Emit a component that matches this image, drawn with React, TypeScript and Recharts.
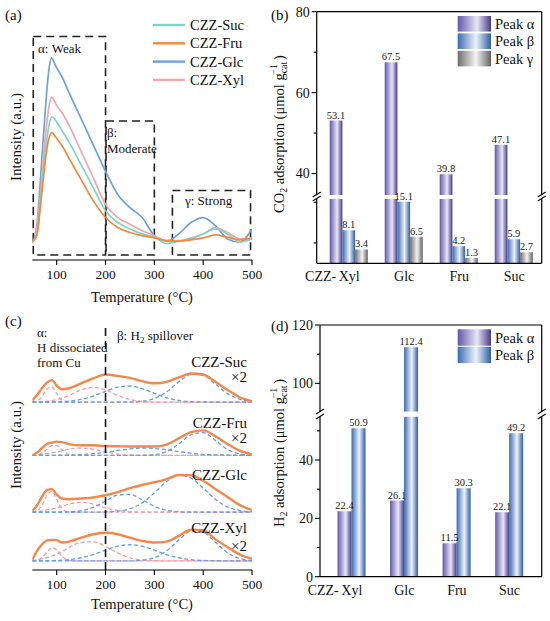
import React from 'react'
import {
  LineChart,
  Line,
  BarChart,
  Bar,
  XAxis,
  YAxis,
  ReferenceArea,
  ReferenceLine,
  LabelList
} from 'recharts'

const FONT = '"Liberation Serif", "Times New Roman", serif'

// (a) CO2-TPD profiles (a.u., 0-100 over the plot height)
const tpdTemps = [50, 55, 60, 65, 70, 75, 80, 85, 90, 95, 100, 110, 125, 150, 175, 200, 225, 250, 275, 300, 325, 350, 375, 400, 425, 450, 475, 500]
const tpdSuc = [7.2, 8.5, 11.1, 19.8, 30.4, 41.0, 49.0, 55.0, 57.6, 57.0, 55.6, 52.3, 47.6, 38.4, 29.1, 19.8, 15.1, 12.5, 10.5, 9.2, 6.6, 7.6, 8.5, 10.5, 12.5, 10.5, 7.2, 8.5]
const tpdFru = [7.2, 8.5, 10.5, 18.4, 27.7, 37.0, 45.0, 49.6, 51.3, 50.3, 49.0, 46.3, 41.0, 32.4, 23.8, 17.1, 13.1, 11.1, 9.8, 8.9, 7.8, 7.6, 8.1, 8.9, 10.1, 9.2, 8.1, 8.9]
const tpdGlc = [7.2, 9.2, 15.1, 27.7, 42.3, 55.6, 68.9, 78.1, 81.4, 79.4, 77.4, 74.1, 67.5, 56.9, 46.3, 35.7, 26.4, 21.1, 17.1, 9.8, 7.6, 10.5, 15.1, 17.1, 13.8, 8.5, 7.2, 12.5]
const tpdXyl = [7.2, 8.5, 13.1, 22.4, 34.4, 46.3, 55.6, 62.9, 65.6, 64.2, 62.2, 59.6, 54.3, 43.7, 33.1, 22.4, 17.1, 14.4, 11.8, 9.8, 7.8, 7.8, 8.9, 10.5, 12.9, 11.1, 8.5, 8.5]

// (b) CO2 adsorption per peak
const catSamples = ['Xyl', 'Glc', 'Fru', 'Suc']
const co2PeakA = [53.1, 67.5, 39.8, 47.1]
const co2PeakB = [8.1, 15.1, 4.2, 5.9]
const co2PeakG = [3.4, 6.5, 1.3, 2.7]

// (c) H2-TPD profiles and fitted peaks (signal above each trace's baseline)
const h2Temps = [50, 60, 70, 80, 90, 100, 110, 125, 150, 175, 200, 225, 250, 275, 300, 325, 350, 375, 400, 425, 450, 475, 500]
const h2SucTotal = [0.7, 3.0, 5.8, 8.0, 9.0, 6.8, 5.3, 5.7, 7.7, 9.7, 11.3, 10.7, 9.9, 8.6, 7.7, 8.3, 10.1, 11.7, 11.3, 8.3, 5.0, 2.0, 0.4]
const h2SucA1 = [0.1, 0.5, 2.3, 5.4, 6.2, 3.6, 1.0, 0, 0, 0, 0, 0, 0, 0, 0, 0, 0, 0, 0, 0, 0, 0, 0]
const h2SucA2 = [0.1, 0.1, 0.2, 0.4, 0.6, 1.1, 1.6, 2.8, 5.0, 6.1, 5.0, 2.8, 1.1, 0.3, 0, 0, 0, 0, 0, 0, 0, 0, 0]
const h2SucB1 = [0, 0, 0, 0, 0.1, 0.1, 0.2, 0.4, 1.1, 2.5, 4.4, 6.1, 6.6, 5.5, 3.6, 1.8, 0.7, 0.2, 0.1, 0, 0, 0, 0]
const h2SucB2 = [0, 0, 0, 0, 0, 0, 0, 0, 0, 0, 0, 0, 0.1, 0.4, 1.5, 4.2, 8.3, 11.4, 11.0, 7.4, 3.5, 1.2, 0.3]
const h2FruTotal = [0.1, 1.2, 3.0, 4.6, 5.2, 5.6, 5.4, 4.6, 4.1, 4.1, 3.8, 3.7, 3.6, 3.6, 3.6, 4.4, 6.9, 9.5, 10.2, 7.8, 4.6, 1.9, 0.4]
const h2FruA1 = [0, 0.2, 0.9, 2.4, 4.0, 4.0, 2.4, 0.4, 0, 0, 0, 0, 0, 0, 0, 0, 0, 0, 0, 0, 0, 0, 0]
const h2FruA2 = [0.1, 0.2, 0.4, 0.7, 1.0, 1.4, 1.8, 2.5, 3.0, 2.5, 1.4, 0.5, 0.1, 0, 0, 0, 0, 0, 0, 0, 0, 0, 0]
const h2FruB1 = [0, 0, 0, 0, 0, 0, 0.1, 0.1, 0.3, 0.7, 1.2, 2.0, 2.6, 3.0, 2.8, 2.3, 1.5, 0.9, 0.4, 0.2, 0.1, 0, 0]
const h2FruB2 = [0, 0, 0, 0, 0, 0, 0, 0, 0, 0, 0, 0, 0, 0, 0.3, 1.5, 4.6, 8.4, 9.3, 6.1, 2.4, 0.6, 0.1]
const h2GlcTotal = [0.5, 2.9, 6.3, 9.0, 9.4, 7.2, 5.6, 5.3, 5.6, 6.0, 6.9, 8.2, 9.8, 11.1, 12.2, 13.5, 15.2, 15.1, 12.8, 9.5, 6.2, 2.9, 0.9]
const h2GlcA1 = [0.1, 0.6, 2.8, 6.9, 8.5, 5.2, 1.6, 0.1, 0, 0, 0, 0, 0, 0, 0, 0, 0, 0, 0, 0, 0, 0, 0]
const h2GlcA2 = [0.2, 0.3, 0.5, 0.9, 1.3, 1.8, 2.4, 3.3, 4.0, 3.3, 1.8, 0.7, 0.2, 0, 0, 0, 0, 0, 0, 0, 0, 0, 0]
const h2GlcB1 = [0, 0, 0, 0, 0, 0, 0, 0.1, 0.6, 2.0, 4.5, 7.0, 7.3, 5.1, 2.4, 0.8, 0.2, 0, 0, 0, 0, 0, 0]
const h2GlcB2 = [0, 0, 0, 0, 0, 0, 0, 0, 0, 0, 0.1, 0.4, 1.4, 3.8, 7.9, 12.5, 15.1, 13.9, 9.8, 5.3, 2.1, 0.7, 0.2]
const h2XylTotal = [0.5, 4.2, 6.8, 8.4, 8.6, 8.5, 7.5, 7.9, 9.5, 10.9, 11.5, 10.9, 9.5, 8.2, 7.5, 7.9, 10.2, 12.8, 12.5, 8.9, 5.6, 2.6, 0.9]
const h2XylA1 = [0, 0.3, 1.3, 3.6, 5.4, 4.5, 2.1, 0.2, 0, 0, 0, 0, 0, 0, 0, 0, 0, 0, 0, 0, 0, 0, 0]
const h2XylA2 = [0.3, 0.5, 0.9, 1.3, 2.0, 2.8, 3.8, 5.4, 7.6, 7.8, 5.9, 3.3, 1.3, 0.4, 0.1, 0, 0, 0, 0, 0, 0, 0, 0]
const h2XylB1 = [0, 0, 0, 0, 0.1, 0.2, 0.3, 0.5, 1.3, 2.6, 4.4, 6.0, 6.6, 6.0, 4.4, 2.6, 1.3, 0.5, 0.2, 0.1, 0, 0, 0]
const h2XylB2 = [0, 0, 0, 0, 0, 0, 0, 0, 0, 0, 0, 0, 0, 0.3, 1.3, 4.1, 8.5, 12.1, 11.7, 7.6, 3.3, 1.0, 0.2]
// vertical offset of each stacked trace (Suc, Fru, Glc, Xyl)
const h2Offsets = [68.5, 46.8, 23.6, 3.7]

// (d) H2 adsorption per peak
const h2PeakA = [22.4, 26.1, 11.5, 22.1]
const h2PeakB = [50.9, 112.4, 30.3, 49.2]

const tempTicks = [100, 150, 200, 250, 300, 350, 400, 450, 500]

const tpdColors: Record<string, string> = {
  suc: '#7fd3c7',
  fru: '#f7883a',
  glc: '#6ea2dd',
  xyl: '#f5a5ae'
}

function TempTick({ x, y, payload }: any) {
  const major = payload.value % 100 === 0
  return (
    <g>
      <line x1={x} x2={x} y1={y} y2={y + (major ? 5 : 3)} stroke="#000" strokeWidth={1.1} />
      {major && (
        <text x={x} y={y + 19} textAnchor="middle" fontSize={13.5} fontFamily={FONT} fill="#111">
          {payload.value}
        </text>
      )}
    </g>
  )
}

function YTick({ x, y, payload, majors }: any) {
  const major = majors.includes(payload.value)
  return (
    <g>
      <line x1={x - (major ? 5 : 3)} x2={x} y1={y} y2={y} stroke="#000" strokeWidth={1.1} />
      {major && (
        <text x={x - 7} y={y} dy="0.35em" textAnchor="end" fontSize={14} fontFamily={FONT} fill="#111">
          {payload.value}
        </text>
      )}
    </g>
  )
}

function SampleTick({ x, y, payload, index }: any) {
  return (
    <g>
      {index === 0 && (
        <text x={x - 13} y={y + 18} textAnchor="end" fontSize={14} fontFamily={FONT} fill="#111">
          CZZ-
        </text>
      )}
      <text x={x} y={y + 18} textAnchor="middle" fontSize={14} fontFamily={FONT} fill="#111">
        {payload.value}
      </text>
    </g>
  )
}

const valueLabel = (max: number) => (props: any) => {
  const { x, y, width, value } = props
  if (value == null || value > max) return null
  return (
    <text x={x + width / 2} y={y - 2} textAnchor="middle" fontSize={10.5} fontFamily={FONT} fill="#222">
      {value}
    </text>
  )
}

const axisLine = { stroke: '#000', strokeWidth: 1.2 }

// axis break limits
const co2Hi = 80
const co2BreakTop = 34.7
const co2BreakLow = 15.8
const h2Hi = 120
const h2BreakTop = 90.3
const h2BreakLow = 54.85

export default function App() {
  const tpdRows = tpdTemps.map((t, i) => ({
    t,
    suc: tpdSuc[i],
    fru: tpdFru[i],
    glc: tpdGlc[i],
    xyl: tpdXyl[i]
  }))

  const h2Samples = [
    { key: 'suc', total: h2SucTotal, a: [h2SucA1, h2SucA2], b: [h2SucB1, h2SucB2] },
    { key: 'fru', total: h2FruTotal, a: [h2FruA1, h2FruA2], b: [h2FruB1, h2FruB2] },
    { key: 'glc', total: h2GlcTotal, a: [h2GlcA1, h2GlcA2], b: [h2GlcB1, h2GlcB2] },
    { key: 'xyl', total: h2XylTotal, a: [h2XylA1, h2XylA2], b: [h2XylB1, h2XylB2] }
  ]
  const h2Rows = h2Temps.map((t, i) => {
    const row: Record<string, number> = { t }
    h2Samples.forEach((s, k) => {
      const off = h2Offsets[k]
      row[s.key + '_total'] = s.total[i] + off
      s.a.forEach((arr, j) => (row[`${s.key}_a${j}`] = arr[i] + off))
      s.b.forEach((arr, j) => (row[`${s.key}_b${j}`] = arr[i] + off))
    })
    return row
  })

  const above = (v: number, lo: number) => (v > lo ? v : null)
  const co2Upper = catSamples.map((name, i) => ({
    name,
    a: above(co2PeakA[i], co2BreakTop),
    b: above(co2PeakB[i], co2BreakTop),
    g: above(co2PeakG[i], co2BreakTop)
  }))
  const co2Lower = catSamples.map((name, i) => ({ name, a: co2PeakA[i], b: co2PeakB[i], g: co2PeakG[i] }))
  const h2Upper = catSamples.map((name, i) => ({
    name,
    a: above(h2PeakA[i], h2BreakTop),
    b: above(h2PeakB[i], h2BreakTop)
  }))
  const h2Lower = catSamples.map((name, i) => ({ name, a: h2PeakA[i], b: h2PeakB[i] }))

  const tempAxes = (
    <>
      <XAxis
        type="number"
        dataKey="t"
        domain={[50, 500]}
        ticks={tempTicks}
        tick={TempTick}
        tickLine={false}
        tickSize={0}
        tickMargin={0}
        axisLine={axisLine}
        allowDataOverflow
      />
      <XAxis xAxisId="top" orientation="top" type="number" dataKey="t" domain={[50, 500]} tick={false} tickLine={false} height={0} axisLine={axisLine} />
      <YAxis domain={[0, 100]} tick={false} tickLine={false} width={0} axisLine={axisLine} allowDataOverflow />
      <YAxis yAxisId="right" orientation="right" domain={[0, 100]} tick={false} tickLine={false} width={0} axisLine={axisLine} />
    </>
  )

  const yTickProps = { tickLine: false, tickSize: 0, tickMargin: 0, width: 1, axisLine, allowDataOverflow: true }
  const rightAxisProps = { yAxisId: 'right', orientation: 'right' as const, tick: false, tickLine: false, width: 1, axisLine }

  const pink = '#f29ea8'
  const blue = '#5f9fe2'

  return (
    <div style={{ position: 'absolute', left: 0, top: 0, width: 550, height: 621, background: '#fff', fontFamily: FONT }}>
      {/* (a) CO2-TPD */}
      <div style={{ position: 'absolute', left: 0, top: 0 }}>
        <LineChart width={275} height={290} data={tpdRows} margin={{ top: 11.7, right: 23, bottom: 0, left: 32.3 }}>
          {tempAxes}
          <ReferenceArea x1={52} x2={200} y1={2} y2={90} fill="none" stroke="#222" strokeWidth={1.6} strokeDasharray="8 5" />
          <ReferenceArea x1={201} x2={300} y1={2} y2={56} fill="none" stroke="#222" strokeWidth={1.6} strokeDasharray="8 5" />
          <ReferenceArea x1={337} x2={497} y1={2} y2={28} fill="none" stroke="#222" strokeWidth={1.6} strokeDasharray="8 5" />
          {['glc', 'xyl', 'suc', 'fru'].map(k => (
            <Line key={k} type="monotone" dataKey={k} stroke={tpdColors[k]} strokeWidth={1.7} dot={false} isAnimationActive={false} />
          ))}
        </LineChart>
      </div>

      {/* (b) CO2 adsorption, upper segment */}
      <div style={{ position: 'absolute', left: 275, top: 0 }}>
        <BarChart width={275} height={200} data={co2Upper} barSize={12.7} barGap={0} margin={{ top: 10.7, right: 7.3, bottom: 5, left: 40.7 }}>
          <XAxis dataKey="name" hide padding={{ left: 5, right: 0 }} />
          <XAxis xAxisId="top" orientation="top" dataKey="name" padding={{ left: 5, right: 0 }} tick={false} tickLine={false} height={1} axisLine={axisLine} />
          <YAxis
            domain={[co2BreakTop, co2Hi]}
            ticks={[40, 50, 60, 70, 80]}
            tick={(p: any) => <YTick {...p} majors={[40, 60, 80]} />}
            {...yTickProps}
          />
          <YAxis domain={[co2BreakTop, co2Hi]} {...rightAxisProps} />
          <Bar dataKey="a" fill="url(#gradA)" isAnimationActive={false}>
            <LabelList dataKey="a" content={valueLabel(co2Hi)} />
          </Bar>
          <Bar dataKey="b" fill="url(#gradB)" isAnimationActive={false} />
          <Bar dataKey="g" fill="url(#gradG)" isAnimationActive={false} />
        </BarChart>
      </div>

      {/* (b) CO2 adsorption, lower segment */}
      <div style={{ position: 'absolute', left: 275, top: 190 }}>
        <BarChart width={275} height={110} data={co2Lower} barSize={12.7} barGap={0} margin={{ top: 9, right: 7.3, bottom: 6.7, left: 40.7 }}>
          <XAxis
            dataKey="name"
            padding={{ left: 5, right: 0 }}
            tick={SampleTick}
            tickLine={false}
            tickSize={0}
            tickMargin={0}
            height={30}
            axisLine={axisLine}
          />
          <YAxis
            domain={[0, co2BreakLow]}
            ticks={[0, 5, 10, 15]}
            tick={(p: any) => <YTick {...p} majors={[0, 10]} />}
            {...yTickProps}
          />
          <YAxis domain={[0, co2BreakLow]} {...rightAxisProps} />
          <Bar dataKey="a" fill="url(#gradA)" isAnimationActive={false} />
          <Bar dataKey="b" fill="url(#gradB)" isAnimationActive={false}>
            <LabelList dataKey="b" content={valueLabel(co2BreakLow)} />
          </Bar>
          <Bar dataKey="g" fill="url(#gradG)" isAnimationActive={false}>
            <LabelList dataKey="g" content={valueLabel(co2BreakLow)} />
          </Bar>
        </BarChart>
      </div>

      {/* (c) H2-TPD with fitted peaks */}
      <div style={{ position: 'absolute', left: 0, top: 300 }}>
        <LineChart width={275} height={300} data={h2Rows} margin={{ top: 25, right: 23, bottom: 0, left: 32.3 }}>
          {tempAxes}
          {h2Samples.map(s =>
            [0, 1].map(j => (
              <Line
                key={`${s.key}_a${j}`}
                type="monotone"
                dataKey={`${s.key}_a${j}`}
                stroke={pink}
                strokeWidth={1.3}
                strokeDasharray="4 2.5"
                dot={false}
                isAnimationActive={false}
              />
            ))
          )}
          {h2Samples.map(s =>
            [0, 1].map(j => (
              <Line
                key={`${s.key}_b${j}`}
                type="monotone"
                dataKey={`${s.key}_b${j}`}
                stroke={blue}
                strokeWidth={1.3}
                strokeDasharray="4 2.5"
                dot={false}
                isAnimationActive={false}
              />
            ))
          )}
          {h2Samples.map(s => (
            <Line
              key={s.key + '_total'}
              type="monotone"
              dataKey={s.key + '_total'}
              stroke="#f5874a"
              strokeWidth={2.4}
              dot={false}
              isAnimationActive={false}
            />
          ))}
          <ReferenceLine x={200} stroke="#111" strokeWidth={1.6} strokeDasharray="8 5" />
        </LineChart>
      </div>

      {/* (d) H2 adsorption, upper segment */}
      <div style={{ position: 'absolute', left: 275, top: 300 }}>
        <BarChart width={275} height={120} data={h2Upper} barSize={14} barGap={0} margin={{ top: 24, right: 7.3, bottom: 8.3, left: 44 }}>
          <XAxis dataKey="name" hide padding={{ left: 5.5, right: 6 }} />
          <XAxis xAxisId="top" orientation="top" dataKey="name" padding={{ left: 5.5, right: 6 }} tick={false} tickLine={false} height={1} axisLine={axisLine} />
          <YAxis
            domain={[h2BreakTop, h2Hi]}
            ticks={[100, 110, 120]}
            tick={(p: any) => <YTick {...p} majors={[100, 120]} />}
            {...yTickProps}
          />
          <YAxis domain={[h2BreakTop, h2Hi]} {...rightAxisProps} />
          <Bar dataKey="a" fill="url(#gradA)" isAnimationActive={false} />
          <Bar dataKey="b" fill="url(#gradB)" isAnimationActive={false}>
            <LabelList dataKey="b" content={valueLabel(h2Hi)} />
          </Bar>
        </BarChart>
      </div>

      {/* (d) H2 adsorption, lower segment */}
      <div style={{ position: 'absolute', left: 275, top: 410 }}>
        <BarChart width={275} height={190} data={h2Lower} barSize={14} barGap={0} margin={{ top: 6.7, right: 7.3, bottom: 0, left: 44 }}>
          <XAxis
            dataKey="name"
            padding={{ left: 5.5, right: 6 }}
            tick={SampleTick}
            tickLine={false}
            tickSize={0}
            tickMargin={0}
            height={23.3}
            axisLine={axisLine}
          />
          <YAxis
            domain={[0, h2BreakLow]}
            ticks={[0, 10, 20, 30, 40, 50]}
            tick={(p: any) => <YTick {...p} majors={[0, 20, 40]} />}
            {...yTickProps}
          />
          <YAxis domain={[0, h2BreakLow]} {...rightAxisProps} />
          <Bar dataKey="a" fill="url(#gradA)" isAnimationActive={false}>
            <LabelList dataKey="a" content={valueLabel(h2BreakLow)} />
          </Bar>
          <Bar dataKey="b" fill="url(#gradB)" isAnimationActive={false}>
            <LabelList dataKey="b" content={valueLabel(h2BreakLow)} />
          </Bar>
        </BarChart>
      </div>

      {/* titles, legends, annotations */}
      <svg width={550} height={621} style={{ position: 'absolute', left: 0, top: 0, pointerEvents: 'none' }} fontFamily={FONT} fill="#111">
        <defs>
          <linearGradient id="gradA" x1="0" x2="1" y1="0" y2="0">
            <stop offset="0" stopColor="#6057aa" />
            <stop offset="0.58" stopColor="#e9e6f5" />
            <stop offset="1" stopColor="#463a8c" />
          </linearGradient>
          <linearGradient id="gradB" x1="0" x2="1" y1="0" y2="0">
            <stop offset="0" stopColor="#3b6bb2" />
            <stop offset="0.55" stopColor="#eef3fa" />
            <stop offset="1" stopColor="#2e5ea8" />
          </linearGradient>
          <linearGradient id="gradG" x1="0" x2="1" y1="0" y2="0">
            <stop offset="0" stopColor="#6f6f6f" />
            <stop offset="0.55" stopColor="#f4f4f4" />
            <stop offset="1" stopColor="#626262" />
          </linearGradient>
        </defs>

        {/* panel (a) */}
        <text x={5} y={20} fontSize={15}>(a)</text>
        <text x={21} y={137} fontSize={15} textAnchor="middle" transform="rotate(-90 21 137)">Intensity (a.u.)</text>
        <text x={142} y={302} fontSize={14.5} textAnchor="middle">Temperature (°C)</text>
        {[
          ['suc', 'CZZ-Suc'],
          ['fru', 'CZZ-Fru'],
          ['glc', 'CZZ-Glc'],
          ['xyl', 'CZZ-Xyl']
        ].map(([k, label], i) => (
          <g key={k}>
            <line x1={153} x2={185} y1={25 + i * 18.3} y2={25 + i * 18.3} stroke={tpdColors[k]} strokeWidth={2.4} />
            <text x={190} y={30 + i * 18.3} fontSize={14.5}>{label}</text>
          </g>
        ))}
        <text x={38} y={53} fontSize={13}>α: Weak</text>
        <text x={107} y={137} fontSize={13}>β:</text>
        <text x={107} y={153} fontSize={13}>Moderate</text>
        <text x={185} y={205} fontSize={13}>γ: Strong</text>

        {/* panel (b) */}
        <text x={271} y={20} fontSize={15}>(b)</text>
        <text x={284} y={213} fontSize={14.5} transform="rotate(-90 284 213)">
          CO<tspan dy={3} fontSize={10}>2</tspan>
          <tspan dy={-3}> adsorption (μmol g</tspan>
          <tspan dy={3} fontSize={10}>cat</tspan>
          <tspan dy={-10} dx={-13} fontSize={10}>−1</tspan>
          <tspan dy={7} dx={4}>)</tspan>
        </text>
        {[316.7, 541.7].map(x => (
          <g key={x} stroke="#000" strokeWidth={1.1}>
            <line x1={x - 4} y1={197} x2={x + 4} y2={192} />
            <line x1={x - 4} y1={201} x2={x + 4} y2={196} />
          </g>
        ))}
        {[
          ['gradA', 'Peak α'],
          ['gradB', 'Peak β'],
          ['gradG', 'Peak γ']
        ].map(([g, label], i) => (
          <g key={g}>
            <rect x={457.7} y={16 + i * 17.4} width={33.3} height={15.6} fill={`url(#${g})`} />
            <text x={495} y={28.5 + i * 17.9} fontSize={14.5}>{label}</text>
          </g>
        ))}

        {/* panel (c) */}
        <text x={5} y={326} fontSize={15}>(c)</text>
        <text x={21} y={445} fontSize={15} textAnchor="middle" transform="rotate(-90 21 445)">Intensity (a.u.)</text>
        <text x={142} y={609} fontSize={14.5} textAnchor="middle">Temperature (°C)</text>
        <text x={37} y={337} fontSize={13}>α:</text>
        <text x={37} y={352} fontSize={13}>H dissociated</text>
        <text x={37} y={367} fontSize={13}>from Cu</text>
        <text x={117} y={340} fontSize={13}>
          β: H<tspan dy={3} fontSize={9}>2</tspan>
          <tspan dy={-3}> spillover</tspan>
        </text>
        <text x={247} y={367} fontSize={15} textAnchor="end">CZZ-Suc</text>
        <text x={247} y={382} fontSize={15} textAnchor="end">×2</text>
        <text x={247} y={428} fontSize={15} textAnchor="end">CZZ-Fru</text>
        <text x={247} y={443} fontSize={15} textAnchor="end">×2</text>
        <text x={247} y={480} fontSize={15} textAnchor="end">CZZ-Glc</text>
        <text x={247} y={533} fontSize={15} textAnchor="end">CZZ-Xyl</text>
        <text x={247} y={551} fontSize={15} textAnchor="end">×2</text>

        {/* panel (d) */}
        <text x={271} y={331} fontSize={15}>(d)</text>
        <text x={284} y={527} fontSize={14.5} transform="rotate(-90 284 527)">
          H<tspan dy={3} fontSize={10}>2</tspan>
          <tspan dy={-3}> adsorption (μmol g</tspan>
          <tspan dy={3} fontSize={10}>cat</tspan>
          <tspan dy={-10} dx={-13} fontSize={10}>−1</tspan>
          <tspan dy={7} dx={4}>)</tspan>
        </text>
        {[320, 541.7].map(x => (
          <g key={x} stroke="#000" strokeWidth={1.1}>
            <line x1={x - 4} y1={414} x2={x + 4} y2={409} />
            <line x1={x - 4} y1={419} x2={x + 4} y2={414} />
          </g>
        ))}
        {[
          ['gradA', 'Peak α'],
          ['gradB', 'Peak β']
        ].map(([g, label], i) => (
          <g key={g}>
            <rect x={457.7} y={329.3 + i * 17.4} width={33.3} height={16.4} fill={`url(#${g})`} />
            <text x={495} y={342.5 + i * 17.5} fontSize={14.5}>{label}</text>
          </g>
        ))}
      </svg>
    </div>
  )
}
